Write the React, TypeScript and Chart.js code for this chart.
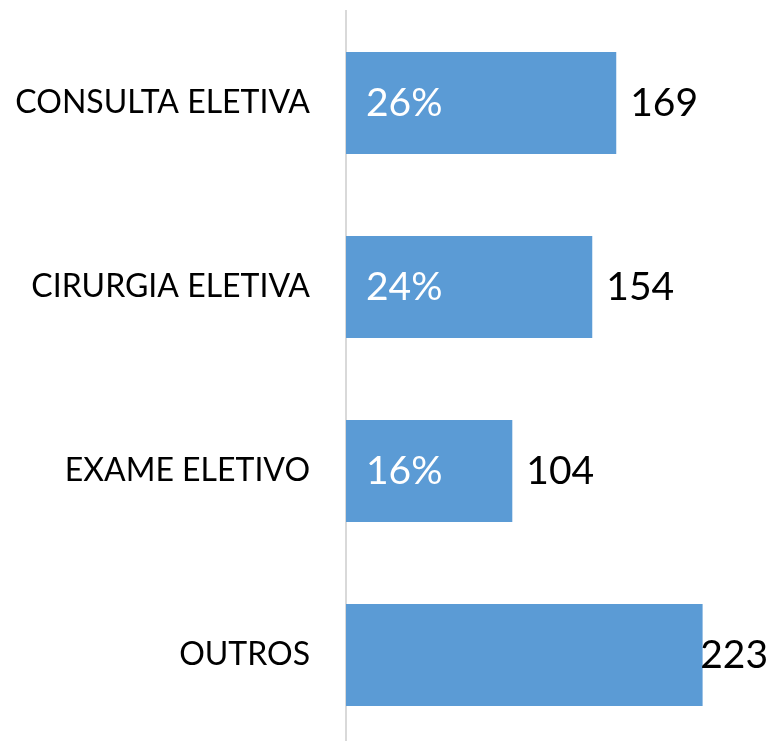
import React, { useEffect, useRef } from "react";
import { Chart, registerables } from "chart.js";

Chart.register(...registerables);

const categories = ["CONSULTA ELETIVA", "CIRURGIA ELETIVA", "EXAME ELETIVO", "OUTROS"];
const values = [169, 154, 104, 223];
const percentLabels = ["26%", "24%", "16%", ""];

const FONT = "Lato";
const CAT_SIZE = 32;
const VAL_SIZE = 39;

const labelPlugin = {
  id: "barLabels",
  afterDatasetsDraw(chart: any) {
    const ctx = chart.ctx;
    const meta = chart.getDatasetMeta(0);
    meta.data.forEach((bar: any, i: number) => {
      const { x, y, base } = bar.getProps(["x", "y", "base"], true);
      ctx.save();
      ctx.font = `${VAL_SIZE}px ${FONT}`;
      ctx.textBaseline = "middle";
      ctx.textAlign = "left";
      if (percentLabels[i]) {
        ctx.fillStyle = "#ffffff";
        ctx.fillText(percentLabels[i], base + 20, y);
      }
      ctx.fillStyle = "#000000";
      const txt = String(values[i]);
      const w = ctx.measureText(txt).width;
      let tx = x + 14;
      const limit = chart.width - 4;
      if (tx + w > limit) tx = limit - w;
      ctx.fillText(txt, tx, y);
      ctx.restore();
    });
  },
};

export default function App() {
  const ref = useRef<HTMLCanvasElement | null>(null);
  useEffect(() => {
    document.body.style.margin = "0";
    const chart = new Chart(ref.current as HTMLCanvasElement, {
      type: "bar",
      data: {
        labels: categories,
        datasets: [
          {
            data: values,
            backgroundColor: "#5B9BD5",
            borderWidth: 0,
            categoryPercentage: 1,
            barPercentage: 0.554,
          },
        ],
      },
      options: {
        indexAxis: "y",
        animation: false,
        responsive: false,
        devicePixelRatio: 1,
        layout: { padding: { top: 11, bottom: 1, left: 0, right: 0 } },
        plugins: { legend: { display: false }, tooltip: { enabled: false } },
        scales: {
          x: { display: false, min: 0, max: 266.4 },
          y: {
            grid: { display: false, drawTicks: false },
            border: { display: true, color: "#d9d9d9", width: 2 },
            ticks: {
              color: "#000000",
              padding: 36,
              font: { family: FONT, size: CAT_SIZE },
            },
            afterFit(scale: any) {
              scale.width = 346;
              scale.paddingTop = 0;
              scale.paddingBottom = 0;
            },
          },
        },
      },
      plugins: [labelPlugin],
    });
    return () => chart.destroy();
  }, []);
  return (
    <div style={{ position: "absolute", left: 0, top: 0, width: 772, height: 741, overflow: "hidden", background: "#fff" }}>
      <canvas ref={ref} width={772} height={748} style={{ display: "block" }} />
    </div>
  );
}
